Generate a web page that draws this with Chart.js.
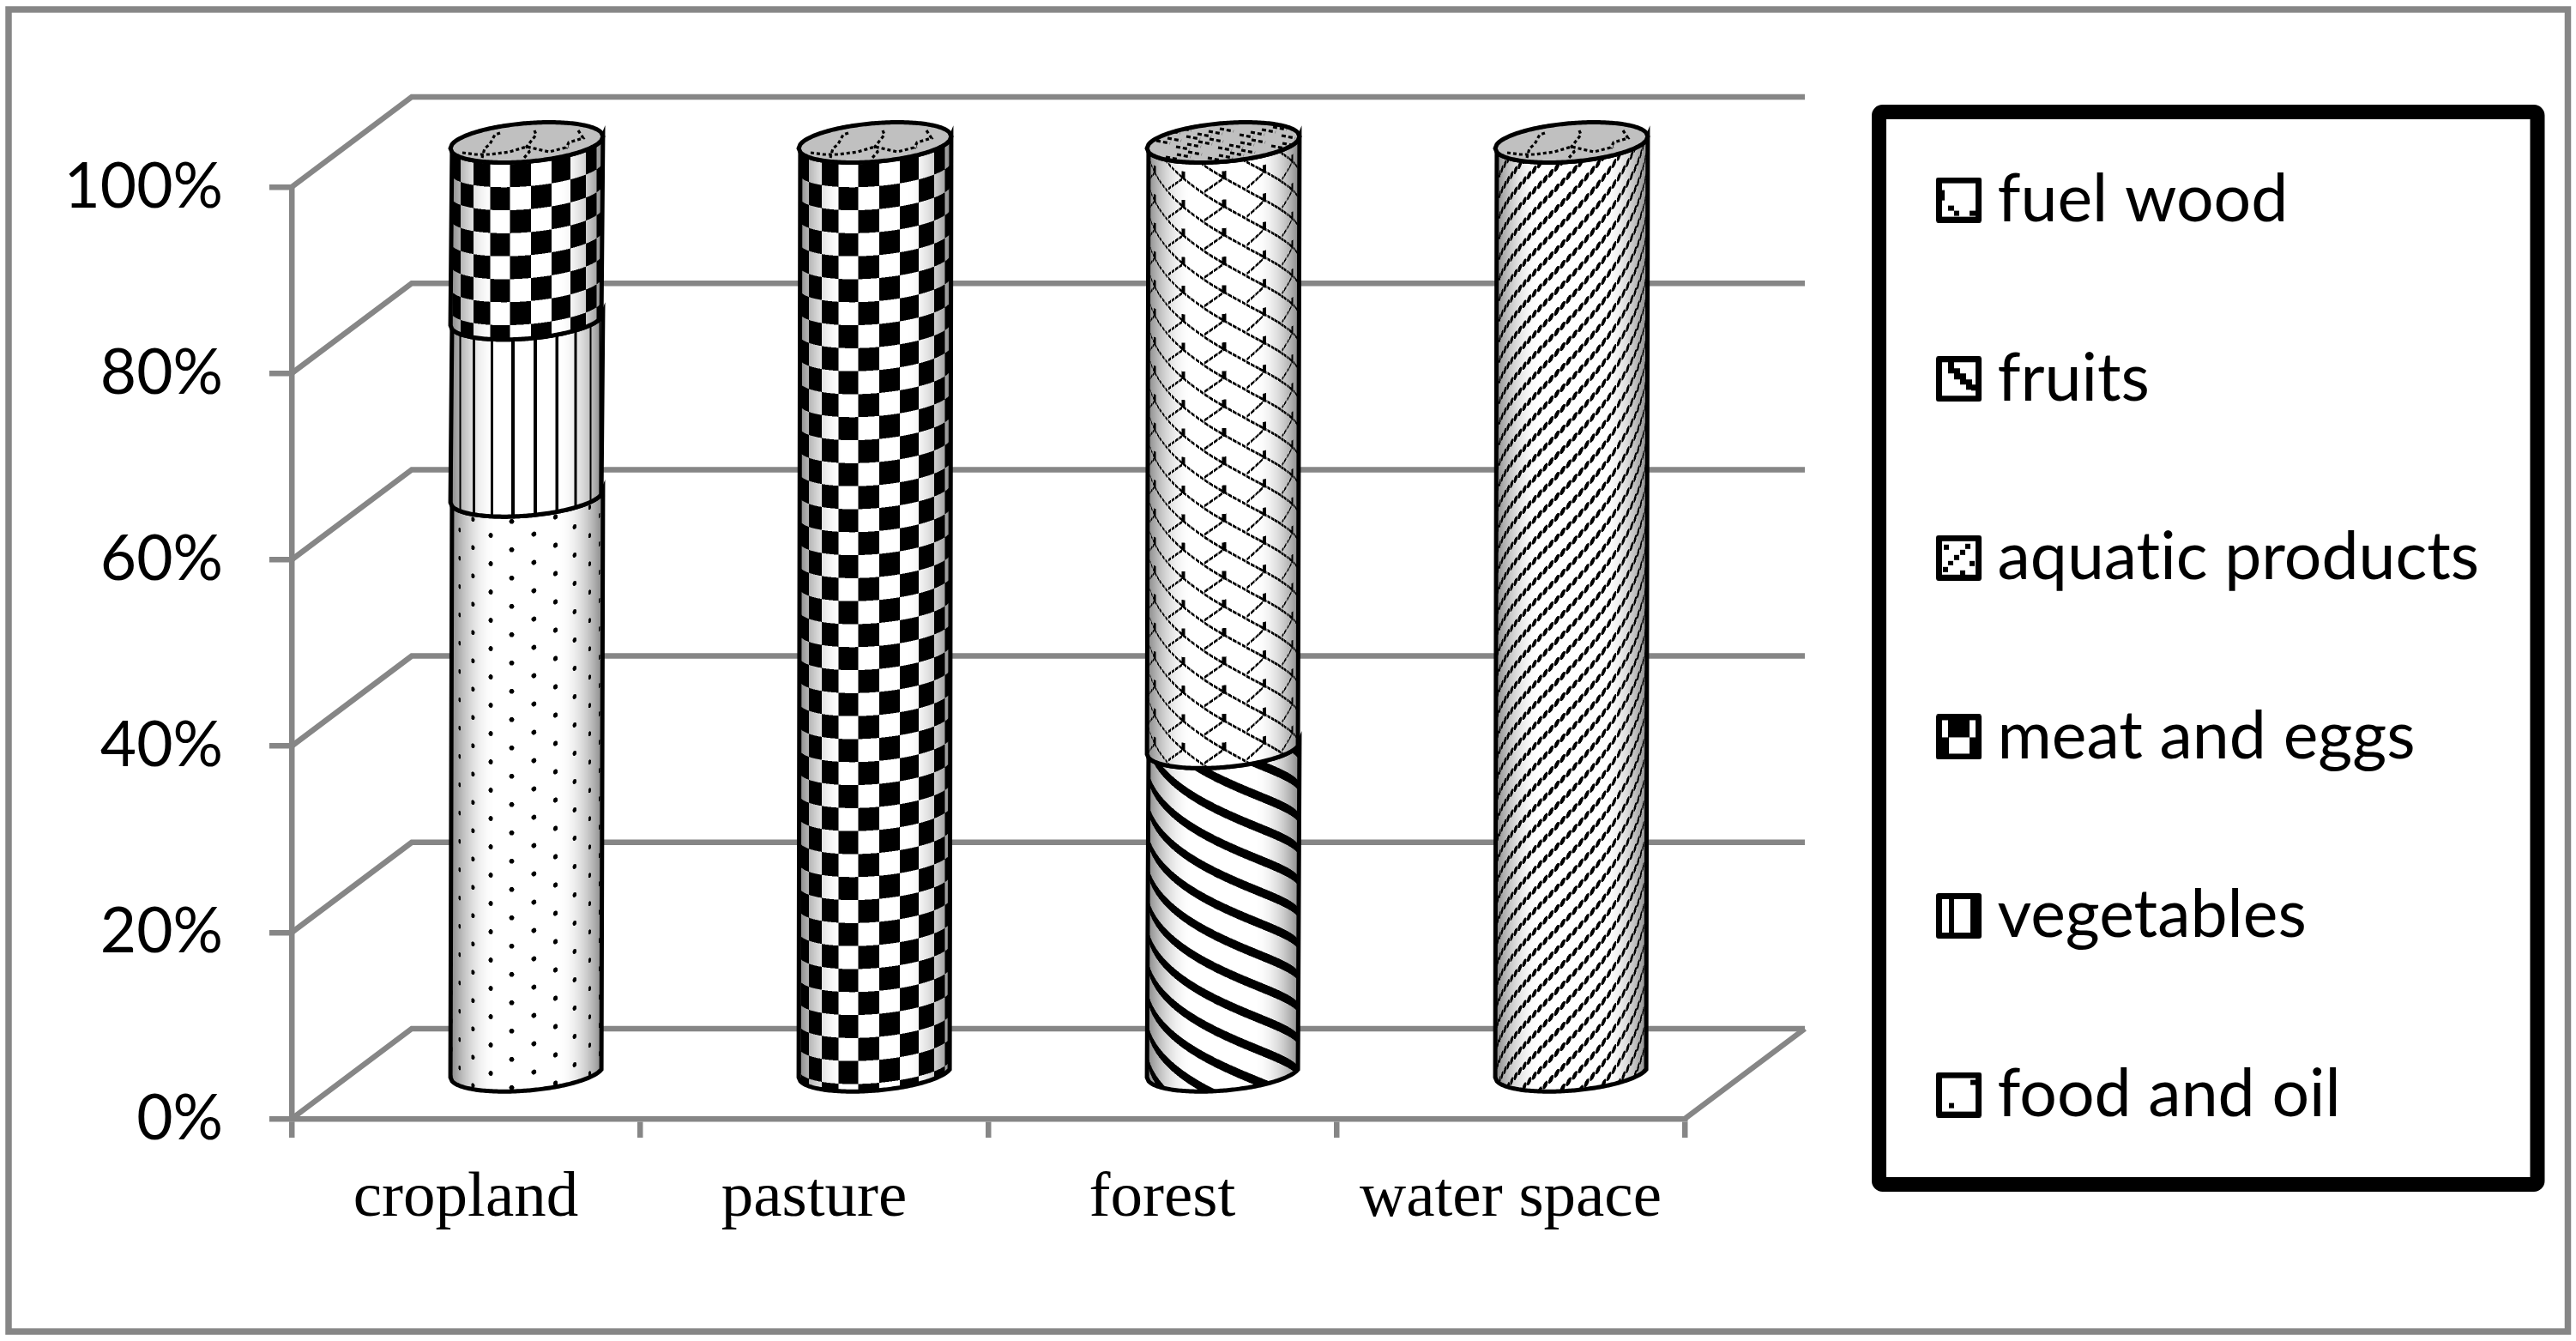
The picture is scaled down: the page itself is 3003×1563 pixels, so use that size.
<!DOCTYPE html>
<html>
<head>
<meta charset="utf-8">
<title>land use</title>
<script src="https://cdn.jsdelivr.net/npm/chart.js@4/dist/chart.umd.js"></script>
<style>
  html, body { margin: 0; padding: 0; background: #fff; }
  canvas { display: block; }
</style>
</head>
<body>
<canvas id="chart" width="3003" height="1563"></canvas>
<script>
const categories = ['cropland', 'pasture', 'forest', 'water space'];
const yTickLabels = ['0%', '20%', '40%', '60%', '80%', '100%'];

const foodAndOil = [62, 0, 0, 0];
const vegetables = [19, 0, 0, 0];
const meatAndEggs = [19, 100, 0, 0];
const aquaticProducts = [0, 0, 0, 100];
const fruits = [0, 0, 35, 0];
const fuelWood = [0, 0, 65, 0];

const GRAY = '#868686';
const DEPTH_X = 140, DEPTH_Y = 105;   // floor depth of the fake 3d box
const RING_B = 22.4, RING_S = -0.0787; // tilted ellipse of the cylinders

function wrap(val, period) {
  return ((val % period) + period) % period;
}

// hatch functions work on unrolled cylinder coords, u around and v down
const hatches = {
  dots: function (u, v) {
    const k = Math.round((u + 17.6) / 26);
    const du = u - (-17.6 + 26 * k);
    const offset = wrap(k, 2) ? 39.9 : 23.4;
    const dv = wrap(v - offset + 16.5, 33) - 16.5;
    return du * du + dv * dv < 8.5;
  },
  lines: function (u, v) {
    return wrap(u - 10 + 1.9, 26) < 3.8;
  },
  checks: function (u, v) {
    const col = Math.floor((u - 5) / 24.6);
    const row = Math.floor((v - 168) / 26.8);
    return wrap(col + row, 2) === 1;
  },
  fineDiagonal: function (u, v) {
    // rows of beads, one bead every 7px along the line
    const du = wrap(u + 10.3 + 3.5, 7) - 3.5;
    const dd = wrap(v + 0.97 * u - 682.9 + 12, 24) - 12;
    return (du * du) / 10 + (dd * dd) / 16 < 1;
  },
  wideDiagonal: function (u, v) {
    return wrap(v - 0.55 * u - 887.6 + 5.5, 37) < 11;
  },
  scallop: function (u, v) {
    const uu = wrap(u - 1 + 25, 50) - 25;
    const vv = wrap(v - 185 + 16.65, 33.3) - 16.65;
    const d = wrap(vv - 0.66 * uu + 16.65, 33.3) - 16.65;
    if (Math.abs(uu) < 2.4 && vv > -8 && vv < 1) return true;
    const bead = wrap(u, 5.5) < 4.4;
    if (Math.abs(d) < 1.6 && bead) return true;
    if (uu < 0 && uu > -23) {
      return Math.abs(vv + 0.65 * uu) < 1.6 && bead;
    }
    return false;
  }
};

const seriesHatch = {
  'food and oil': 'dots',
  'vegetables': 'lines',
  'meat and eggs': 'checks',
  'aquatic products': 'fineDiagonal',
  'fruits': 'wideDiagonal',
  'fuel wood': 'scallop'
};

// little pixel marks inside the legend boxes
const swatchMarks = {
  'fuel wood': [[7, 15, 3, 12], [14, 33, 7, 6], [21, 39, 6, 6], [39, 39, 7, 6]],
  'fruits': [[14, 7, 7, 13], [21, 14, 7, 13], [28, 20, 7, 13], [35, 27, 7, 12], [41, 33, 6, 7]],
  'aquatic products': [[9, 11, 6, 6], [28, 17, 6, 6], [21, 23, 6, 6], [14, 30, 6, 5], [8, 37, 6, 6], [34, 10, 6, 6], [28, 41, 6, 5], [39, 30, 6, 6]],
  'meat and eggs': [[14, 7, 25, 20], [7, 27, 8, 19], [39, 27, 7, 19]],
  'vegetables': [[15, 7, 6, 39], [40, 7, 6, 39]],
  'food and oil': [[15, 36, 6, 6], [40, 9, 7, 6]]
};

const capWaves = [
  [[-31, -11], [-37, -9], [-43, 2], [-49, 7], [-52, 18]],
  [[9, -14], [11, -9], [0, 5], [3, 11], [-3, 18]],
  [[60, -14], [66, -5], [49, 0], [46, 7]],
  [[-75, 12], [-60, 14], [-43, 14], [-20, 11], [0, 5], [26, 11], [49, 5]]
];

function makeSwatch(name) {
  const c = document.createElement('canvas');
  c.width = 53;
  c.height = 53;
  const g = c.getContext('2d');
  g.fillStyle = '#000';
  g.beginPath();
  g.roundRect(0, 0, 53, 53, 3);
  g.fill();
  g.fillStyle = '#fff';
  g.fillRect(7, 7, 39, 39);
  g.fillStyle = '#000';
  swatchMarks[name].forEach(function (m) {
    g.fillRect(m[0], m[1], m[2], m[3]);
  });
  return c;
}

function frontY(dx, a, sign) {
  const t = Math.max(0, 1 - (dx * dx) / (a * a));
  return sign * RING_B * Math.sqrt(t) + RING_S * dx;
}

function bodyPath(ctx, cx, a, top, bottom) {
  ctx.beginPath();
  for (let dx = -a; dx <= a; dx += 2) ctx.lineTo(cx + dx, bottom + frontY(dx, a, 1));
  for (let dx = a; dx >= -a; dx -= 2) ctx.lineTo(cx + dx, top + frontY(dx, a, 1));
  ctx.closePath();
}

function paintHatch(ctx, hatch, cx, a, top, bottom) {
  const x0 = Math.floor(cx - a) - 1;
  const y0 = Math.floor(top - RING_B) - 12;
  const w = Math.ceil(2 * a) + 3;
  const h = Math.ceil(bottom - top + 2 * RING_B) + 24;
  const off = document.createElement('canvas');
  off.width = w;
  off.height = h;
  const g = off.getContext('2d');
  const img = g.createImageData(w, h);
  const fn = hatches[hatch];
  const subs = [0.25, 0.75];
  for (let j = 0; j < h; j++) {
    for (let i = 0; i < w; i++) {
      let ink = 0;
      subs.forEach(function (sx) {
        subs.forEach(function (sy) {
          const dx = Math.max(-a, Math.min(a, x0 + i + sx - cx));
          const u = a * Math.asin(dx / a);
          const v = y0 + j + sy - frontY(dx, a, 1);
          if (fn(u, v)) ink += 0.25;
        });
      });
      const t = Math.abs(x0 + i + 0.5 - cx) / a;
      const edge = Math.max(0, (t - 0.4) / 0.6);
      const val = 255 * (1 - ink) * (1 - 0.48 * edge * edge);
      const p = (j * w + i) * 4;
      img.data[p] = img.data[p + 1] = img.data[p + 2] = val;
      img.data[p + 3] = 255;
    }
  }
  g.putImageData(img, 0, 0);
  ctx.save();
  bodyPath(ctx, cx, a, top, bottom);
  ctx.clip();
  ctx.drawImage(off, x0, y0);
  ctx.restore();
}

function capPath(ctx, cx, a, cy) {
  ctx.beginPath();
  for (let dx = -a; dx <= a; dx += 2) ctx.lineTo(cx + dx, cy + frontY(dx, a, 1));
  for (let dx = a; dx >= -a; dx -= 2) ctx.lineTo(cx + dx, cy + frontY(dx, a, -1));
  ctx.closePath();
}

function drawCap(ctx, cx, a, cy, speckled) {
  ctx.save();
  capPath(ctx, cx, a, cy);
  ctx.fillStyle = '#c0c0c0';
  ctx.fill();
  ctx.clip();
  ctx.strokeStyle = '#000';
  ctx.lineWidth = 3.2;
  if (speckled) {
    ctx.setLineDash([5, 3]);
    for (let i = 0; i < 36; i++) {
      const x = -80 + (i * 37) % 160;
      const y = -20 + (i * 13) % 40;
      ctx.beginPath();
      ctx.moveTo(cx + x, cy + y);
      ctx.lineTo(cx + x + 16, cy + y + 3);
      ctx.stroke();
    }
  } else {
    ctx.setLineDash([4, 3]);
    capWaves.forEach(function (wave) {
      ctx.beginPath();
      wave.forEach(function (p) { ctx.lineTo(cx + p[0], cy + p[1]); });
      ctx.stroke();
    });
  }
  ctx.restore();
  capPath(ctx, cx, a, cy);
  ctx.strokeStyle = '#000';
  ctx.lineWidth = 5;
  ctx.stroke();
}

// bar elements keep the library's layout, they only get painted as round columns
function drawColumn(ctx, bar, label, isTop) {
  const cx = bar.x + 71;
  const a = bar.width / 2;
  const top = bar.y - 52;
  const bottom = bar.base - 52;
  paintHatch(ctx, seriesHatch[label], cx, a, top, bottom);
  bodyPath(ctx, cx, a, top, bottom);
  ctx.strokeStyle = '#000';
  ctx.lineWidth = 5;
  ctx.stroke();
  if (isTop) drawCap(ctx, cx, a, top, label === 'fuel wood');
}

const backdrop = {
  id: 'backdrop',
  beforeDraw: function (chart) {
    const ctx = chart.ctx;
    ctx.textRendering = 'optimizeSpeed'; // no ti ligature
    ctx.save();
    ctx.strokeStyle = GRAY;
    ctx.lineWidth = 7.5;
    ctx.strokeRect(10, 11, 2983.5, 1541);
    ctx.strokeStyle = '#000';
    ctx.lineWidth = 17;
    ctx.beginPath();
    ctx.roundRect(2190.5, 130.5, 767.5, 1250, 4);
    ctx.stroke();
    ctx.restore();
  },
  beforeDatasetsDraw: function (chart) {
    const ctx = chart.ctx;
    const y = chart.scales.y;
    const left = chart.chartArea.left, right = chart.chartArea.right;
    ctx.save();
    ctx.strokeStyle = GRAY;
    ctx.lineWidth = 6.5;
    y.ticks.forEach(function (t) {
      const py = y.getPixelForValue(t.value);
      ctx.beginPath();
      ctx.moveTo(left, py);
      ctx.lineTo(left + DEPTH_X, py - DEPTH_Y);
      ctx.lineTo(right + DEPTH_X, py - DEPTH_Y);
      ctx.stroke();
    });
    const py0 = y.getPixelForValue(0);
    ctx.beginPath();
    ctx.moveTo(right, py0);
    ctx.lineTo(right + DEPTH_X, py0 - DEPTH_Y);
    ctx.stroke();
    ctx.restore();
  },
  afterDatasetsDraw: function (chart) {
    chart.data.datasets.forEach(function (ds, i) {
      chart.getDatasetMeta(i).data.forEach(function (bar) {
        if (Math.abs(bar.base - bar.y) < 1) return;
        drawColumn(chart.ctx, bar, ds.label, Math.abs(bar.y - chart.scales.y.top) < 1);
      });
    });
  },
  afterLayout: function (chart) {
    // the boxed legend sits apart from the plot, taller than the plot area
    const legend = chart.legend;
    legend.maxHeight = 2000;
    legend.fit();
    legend.left = 2277 - 131.6;
    legend.right = 2970;
    legend.top = 63;
    legend.bottom = 1540;
  }
};

const series = [
  ['food and oil', foodAndOil],
  ['vegetables', vegetables],
  ['meat and eggs', meatAndEggs],
  ['aquatic products', aquaticProducts],
  ['fruits', fruits],
  ['fuel wood', fuelWood]
];

new Chart(document.getElementById('chart'), {
  type: 'bar',
  plugins: [backdrop],
  data: {
    labels: categories,
    datasets: series.map(function (s) {
      return { label: s[0], data: s[1], backgroundColor: 'transparent', borderWidth: 0 };
    })
  },
  options: {
    responsive: false,
    animation: false,
    devicePixelRatio: 1,
    categoryPercentage: 1,
    barPercentage: 0.438,
    layout: { autoPadding: false, padding: { left: 0, top: 218, bottom: 0, right: 439 } },
    scales: {
      x: {
        stacked: true,
        afterFit: function (s) { s.height = 259; },
        border: { color: GRAY, width: 6.5 },
        grid: { color: GRAY, lineWidth: 6.5, drawOnChartArea: false, tickLength: 22 },
        ticks: {
          color: '#000',
          padding: 26,
          maxRotation: 0,
          autoSkip: false,
          font: { family: 'Liberation Serif', size: 75 }
        }
      },
      y: {
        stacked: true,
        min: 0,
        max: 100,
        afterFit: function (s) { s.width = 340; },
        border: { color: GRAY, width: 6.5 },
        grid: { color: GRAY, lineWidth: 6.5, drawOnChartArea: false, tickLength: 26 },
        ticks: {
          color: '#000',
          padding: 54,
          stepSize: 20,
          font: { family: 'Lato', size: 73 },
          callback: function (value, i) { return yTickLabels[i]; }
        }
      }
    },
    plugins: {
      tooltip: { enabled: false },
      title: { display: false },
      legend: {
        position: 'right',
        align: 'start',
        maxWidth: 600,
        labels: {
          usePointStyle: true,
          pointStyleWidth: 13,
          padding: 131.6,
          color: '#000',
          font: { family: 'Lato', size: 77 },
          generateLabels: function () {
            return series.slice().reverse().map(function (s, i) {
              return {
                text: s[0],
                fillStyle: '#000',
                lineWidth: 0,
                hidden: false,
                pointStyle: makeSwatch(s[0]),
                datasetIndex: series.length - 1 - i
              };
            });
          }
        }
      }
    }
  }
});
</script>
</body>
</html>
